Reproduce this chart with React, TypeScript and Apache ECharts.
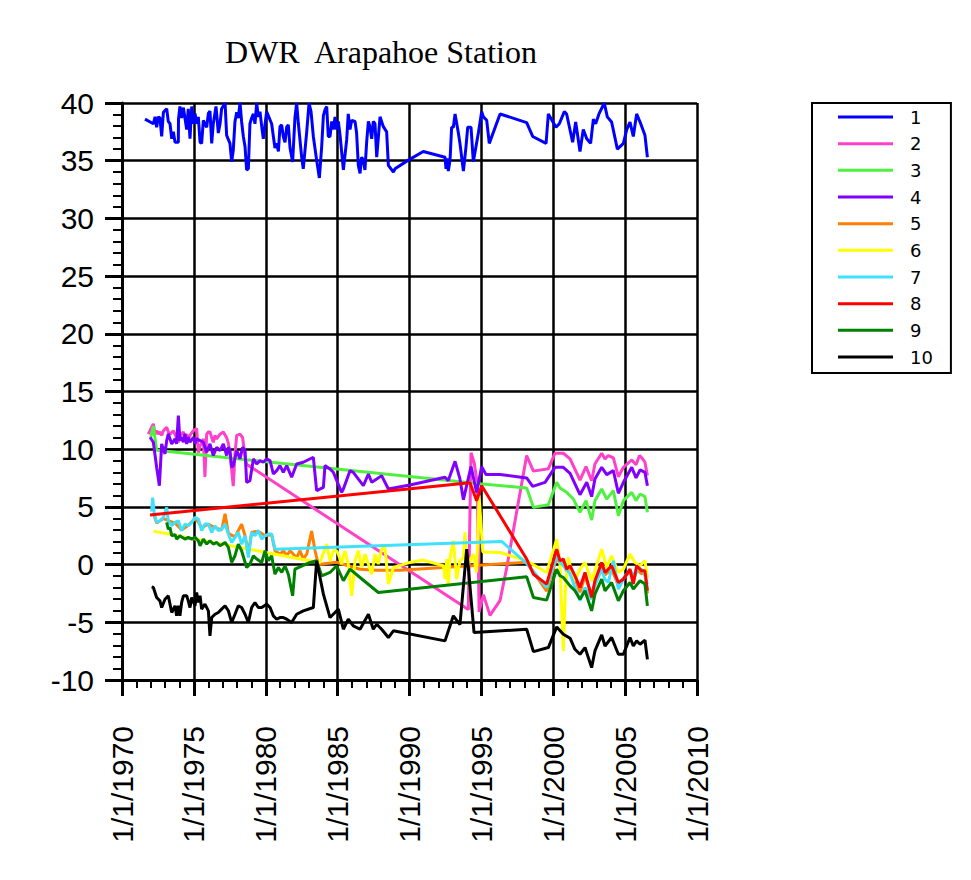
import React, { useEffect, useRef } from "react";
import * as echarts from "echarts";

const seriesNames = ["1", "2", "3", "4", "5", "6", "7", "8", "9", "10"];
const seriesColors = ["#0000ff", "#ff40c8", "#50f040", "#8000ff", "#ff8000", "#ffff00", "#40e0ff", "#ff0000", "#008000", "#000000"];
const xTickYears = [1970, 1975, 1980, 1985, 1990, 1995, 2000, 2005, 2010];

const s1 = [[1971.6,38.6],[1972.18,38.2],[1972.3,38.8],[1972.41,37.9],[1972.53,38.8],[1972.64,38.7],[1972.76,37.1],[1972.88,39.2],[1973.11,39.5],[1973.22,38.4],[1973.34,38.2],[1973.46,36.9],[1973.57,37.5],[1973.69,36.6],[1973.92,36.6],[1973.93,38.6],[1974.03,39.7],[1974.15,38.7],[1974.27,39.6],[1974.5,37.7],[1974.61,39.5],[1974.73,36.9],[1974.85,39.7],[1974.96,38.2],[1975.08,39.1],[1975.19,38.2],[1975.31,38.8],[1975.43,36.6],[1975.54,36.5],[1975.66,38.5],[1975.89,37.9],[1976.01,39.1],[1976.12,39.3],[1976.24,36.5],[1976.35,38.2],[1976.54,39.7],[1976.7,37.4],[1976.82,38.2],[1976.93,39.5],[1977.17,40],[1977.28,37.2],[1977.51,36.5],[1977.63,34.9],[1977.74,35.9],[1977.86,38.4],[1977.98,39.2],[1978.09,38.7],[1978.21,40],[1978.32,38.4],[1978.44,37.1],[1978.56,36.2],[1978.67,34.2],[1978.79,34.3],[1978.9,38.2],[1979.02,38.7],[1979.14,39.05],[1979.25,38.2],[1979.37,40],[1979.48,38.8],[1979.6,39.25],[1979.72,37.95],[1979.83,36.9],[1980.06,39.25],[1980.41,38.2],[1980.53,37.1],[1980.64,36.1],[1980.76,36.5],[1980.88,35.8],[1980.99,37.95],[1981.11,38.1],[1981.22,37.1],[1981.34,36.6],[1981.46,37.95],[1981.57,38.1],[1981.69,36.1],[1981.87,34.9],[1982.03,38.7],[1982.15,40],[1982.27,38.2],[1982.5,35.3],[1982.61,34.3],[1982.85,37.5],[1983.01,40],[1983.15,39.25],[1983.31,37.1],[1983.54,35.05],[1983.73,33.5],[1983.89,36.2],[1984.01,38.9],[1984.12,39.4],[1984.24,39.7],[1984.35,37.1],[1984.47,37.1],[1984.59,38.4],[1984.7,37.7],[1984.82,38.8],[1984.93,37.7],[1985.05,38.4],[1985.17,37.2],[1985.4,34.2],[1985.63,36.8],[1985.74,39.05],[1985.86,37.7],[1985.98,38.5],[1986.21,38.4],[1986.32,37.4],[1986.44,34.6],[1986.56,33.9],[1986.67,35.3],[1986.79,35.05],[1986.9,34.2],[1987.02,36.6],[1987.14,38.4],[1987.25,37.95],[1987.37,36.9],[1987.48,38.4],[1987.6,38.2],[1987.72,35.3],[1987.95,38.8],[1988.18,37.95],[1988.41,37.5],[1988.53,34.6],[1988.88,34.0],[1988.99,34.3],[1989.92,35.05],[1990.96,35.8],[1992.47,35.3],[1992.54,34.3],[1992.63,35.2],[1992.7,34.1],[1992.82,35.05],[1992.93,37.9],[1993.05,37.9],[1993.17,39.05],[1993.4,37.4],[1993.51,36.5],[1993.75,34.1],[1993.93,36.2],[1994.05,37.9],[1994.28,37.9],[1994.44,34.9],[1994.79,37.4],[1995.02,39.25],[1995.14,38.8],[1995.37,38.5],[1995.55,36.5],[1996.3,39.05],[1998.15,38.3],[1998.57,37.1],[1999.5,36.5],[1999.66,39.05],[2000.19,37.9],[2000.42,38.2],[2000.77,39.25],[2000.93,39.05],[2001.35,36.6],[2001.56,38.35],[2001.86,35.8],[2002.09,37.7],[2002.33,36.9],[2002.6,36.5],[2002.79,38.6],[2002.95,38.2],[2003.18,39.05],[2003.55,40],[2003.76,38.8],[2004.06,38.35],[2004.46,36.0],[2004.88,36.5],[2005.11,37.7],[2005.34,38.35],[2005.57,37.1],[2005.8,39.05],[2006.04,38.35],[2006.38,37.2],[2006.55,35.3]];

const s2 = [[1971.83,11.3],[1972.06,11.9],[1972.18,12.2],[1972.3,11.3],[1972.41,11.6],[1972.53,11.3],[1972.64,11.5],[1972.76,11.2],[1972.88,11.6],[1973.11,11.9],[1973.22,11.5],[1973.34,11.3],[1973.57,11.6],[1973.8,11.0],[1973.92,10.6],[1974.03,11.0],[1974.15,11.3],[1974.27,11.5],[1974.38,11.0],[1974.5,11.3],[1974.61,10.9],[1974.73,11.2],[1974.96,11.6],[1975.19,11.8],[1975.31,9.7],[1975.43,10.3],[1975.54,10.5],[1975.66,10.9],[1975.77,7.6],[1975.89,11.3],[1976.01,11.5],[1976.12,11.5],[1976.24,11.0],[1976.35,10.6],[1976.47,11.2],[1976.58,10.9],[1976.82,11.3],[1977.05,11.5],[1977.28,11.0],[1977.4,10.5],[1977.51,9.7],[1977.74,6.8],[1977.86,9.6],[1977.98,11.2],[1978.21,11.3],[1978.39,11.0],[1978.56,9.3],[1978.67,8.7],[1994.09,-3.9],[1994.28,9.7],[1994.5,8.8],[1994.72,7.0],[1994.84,-4.1],[1995.14,-2.6],[1995.6,-4.4],[1996.3,-3.1],[1996.76,-0.3],[1998.15,9.45],[1998.62,8.1],[1999.66,8.3],[2000.12,9.65],[2000.7,9.65],[2001.17,9.16],[2001.86,7.33],[2002.28,8.49],[2002.67,7.27],[2002.9,8.72],[2003.37,9.65],[2003.6,9.16],[2003.83,9.45],[2004.18,9.24],[2004.53,7.62],[2004.88,8.43],[2005.46,9.07],[2005.76,8.66],[2006.0,9.45],[2006.22,9.16],[2006.38,8.87],[2006.55,7.71]];

const s3 = [[1972.0,11.0],[1972.18,12.0],[1972.41,9.9],[1994.9,7.0],[1998.15,6.64],[1998.62,4.96],[1999.66,5.19],[2000.24,7.13],[2000.47,6.64],[2000.93,6.26],[2001.4,5.68],[2001.86,4.53],[2002.28,5.54],[2002.67,3.86],[2002.9,5.54],[2003.37,6.55],[2003.72,5.68],[2004.18,6.41],[2004.53,4.24],[2004.88,5.54],[2005.46,6.26],[2005.76,5.54],[2006.04,6.12],[2006.38,5.89],[2006.55,4.53]];

const s4 = [[1971.95,11.04],[1972.18,10.6],[1972.41,8.43],[1972.6,6.84],[1972.76,10.46],[1972.99,9.59],[1973.11,10.75],[1973.22,11.33],[1973.46,10.46],[1973.69,10.89],[1973.8,10.46],[1973.92,12.92],[1974.03,10.75],[1974.15,11.04],[1974.27,10.6],[1974.38,11.33],[1974.5,10.46],[1974.61,11.04],[1974.73,10.6],[1974.96,11.04],[1975.08,10.46],[1975.19,10.89],[1975.43,10.75],[1975.66,10.6],[1975.89,9.74],[1976.12,10.46],[1976.35,9.45],[1976.59,10.17],[1976.82,9.88],[1977.05,10.46],[1977.28,9.45],[1977.4,10.17],[1977.51,9.88],[1977.63,8.43],[1977.74,8.58],[1977.98,9.88],[1978.21,9.16],[1978.39,10.17],[1978.56,9.88],[1978.67,7.13],[1978.9,7.28],[1979.14,9.16],[1979.37,8.72],[1979.6,9.01],[1979.83,8.87],[1980.06,9.16],[1980.3,9.01],[1980.53,7.85],[1980.76,8.14],[1980.99,8.58],[1981.22,8.0],[1981.46,8.58],[1981.8,7.57],[1982.15,8.72],[1982.61,8.87],[1983.31,9.3],[1983.54,6.41],[1984.01,6.7],[1984.12,8.58],[1984.47,8.29],[1984.7,8.0],[1985.28,6.26],[1985.4,6.55],[1985.86,8.14],[1986.09,8.0],[1986.79,6.84],[1987.14,7.85],[1987.37,7.13],[1987.72,7.42],[1988.06,7.71],[1988.53,6.55],[1990.03,6.9],[1992.47,7.57],[1992.7,7.28],[1993.17,8.95],[1993.51,7.42],[1993.75,5.63],[1994.28,8.49],[1994.49,7.28],[1994.67,6.26],[1995.02,8.49],[1995.32,7.8],[1995.6,7.8],[1996.3,7.8],[1998.15,7.51],[1998.57,6.78],[1999.43,7.13],[2000.12,8.43],[2000.7,8.43],[2001.17,7.91],[2001.86,6.06],[2002.33,7.13],[2002.67,5.89],[2002.9,7.42],[2003.37,8.43],[2003.72,7.8],[2004.18,8.14],[2004.53,6.18],[2004.88,7.13],[2005.46,8.43],[2005.76,7.51],[2006.04,8.2],[2006.38,8.0],[2006.55,6.84]];

const s5 = [[1972.18,4.5],[1972.41,3.6],[1972.88,4.0],[1973.22,3.8],[1973.69,3.6],[1974.15,3.0],[1974.61,3.4],[1975.08,4.0],[1975.31,3.7],[1975.54,3.2],[1976.01,3.5],[1976.47,3.2],[1976.93,3.0],[1977.17,4.4],[1977.4,2.7],[1977.86,2.4],[1978.32,3.5],[1978.56,2.5],[1978.79,1.0],[1979.02,2.8],[1979.48,2.9],[1979.95,2.5],[1980.41,2.6],[1980.64,1.2],[1981.0,0.9],[1981.22,1.2],[1981.46,0.8],[1981.69,1.2],[1981.92,0.9],[1982.15,0.6],[1982.38,1.2],[1982.61,0.5],[1982.85,0.9],[1983.19,2.9],[1983.43,1.2],[1983.66,0.0],[1984.93,0.2],[1986.56,-0.4],[1987.72,-0.5],[1989.34,-0.5],[1998.15,0.2],[1999.54,-2.3],[2000.24,0.6],[2000.47,0.1],[2000.7,0.3],[2000.93,-0.6],[2001.17,-0.3],[2001.51,-1.2],[2001.86,-2.4],[2002.21,-1.0],[2002.67,-2.6],[2002.9,-1.6],[2003.37,0.0],[2003.6,-0.9],[2004.06,-0.4],[2004.53,-1.8],[2004.88,-1.2],[2005.34,-0.6],[2005.57,-1.5],[2005.8,-0.4],[2006.15,-0.8],[2006.38,-0.7],[2006.55,-2.5]];

const s6 = [[1972.18,2.9],[1983.08,0.33],[1983.77,0.19],[1984.24,1.78],[1984.47,0.33],[1984.7,1.2],[1984.93,1.2],[1985.05,0.9],[1985.28,0.04],[1985.51,1.2],[1985.74,0.04],[1985.98,-2.7],[1986.21,0.33],[1986.44,1.2],[1986.67,-0.25],[1986.9,0.91],[1987.14,0.04],[1987.37,-0.83],[1987.6,0.91],[1987.83,0.04],[1988.06,1.34],[1988.29,1.49],[1988.53,-1.69],[1988.88,-0.25],[1990.03,0.19],[1990.96,0.39],[1992.35,-0.1],[1992.47,-1.26],[1992.59,0.48],[1992.7,-1.84],[1992.82,0.62],[1993.05,2.07],[1993.28,-1.26],[1993.51,0.33],[1993.75,0.6],[1993.86,2.79],[1993.98,-0.25],[1994.21,0.33],[1994.44,0.9],[1994.67,-0.68],[1994.84,6.0],[1995.1,1.1],[1996.3,1.05],[1998.15,0.33],[1999.54,-0.68],[2000.24,2.21],[2000.47,0.04],[2000.7,-7.48],[2000.85,-2.0],[2001.05,0.62],[2001.28,-0.68],[2001.51,-1.4],[2001.86,-0.39],[2002.21,0.19],[2002.67,-1.4],[2003.37,1.34],[2003.72,-0.25],[2004.06,0.77],[2004.53,-0.68],[2004.88,-0.39],[2005.34,0.91],[2005.69,0.19],[2006.04,-0.1],[2006.38,0.33],[2006.55,-1.12]];

const s7 = [[1972.06,4.6],[1972.13,5.8],[1972.25,4.4],[1972.41,3.66],[1972.64,3.8],[1972.88,4.09],[1973.11,4.96],[1973.22,3.8],[1973.46,3.37],[1973.69,3.66],[1973.92,3.8],[1974.15,2.94],[1974.38,3.51],[1974.61,3.37],[1974.85,3.66],[1975.08,4.09],[1975.31,3.95],[1975.54,2.94],[1975.77,3.51],[1976.01,3.51],[1976.24,2.79],[1976.47,3.37],[1976.7,2.94],[1976.93,3.08],[1977.17,3.51],[1977.4,2.65],[1977.63,1.92],[1977.86,2.36],[1978.09,2.79],[1978.32,1.78],[1978.56,2.5],[1978.79,0.62],[1979.02,2.79],[1979.25,2.5],[1979.48,2.94],[1979.72,2.21],[1979.95,2.5],[1980.18,2.65],[1980.41,2.65],[1980.64,1.34],[1996.41,2.01],[1998.15,0.1],[1999.54,-1.98],[2000.24,0.77],[2000.47,0.2],[2000.7,-0.1],[2001.17,-0.8],[2001.51,-1.98],[2001.86,-3.14],[2002.21,-1.98],[2002.67,-3.0],[2002.9,-1.8],[2003.37,-0.39],[2003.6,-1.3],[2003.83,-1.55],[2004.18,0.33],[2004.53,-2.13],[2004.99,-0.97],[2005.34,-0.54],[2005.69,-0.97],[2005.92,-0.25],[2006.27,-0.54],[2006.55,-1.69]];

const s8 = [[1971.95,4.3],[1994.21,7.1],[1994.67,5.54],[1995.02,6.84],[1998.15,0.48],[1998.62,-0.83],[1999.54,-1.69],[2000.24,1.34],[2000.47,0.33],[2000.7,0.48],[2000.93,-0.39],[2001.17,-0.1],[2001.51,-0.97],[2001.86,-1.98],[2002.21,-0.68],[2002.67,-2.85],[2002.9,-1.4],[2003.37,0.19],[2003.6,-0.68],[2004.06,-0.1],[2004.53,-1.55],[2004.88,-1.26],[2005.34,-0.39],[2005.57,-1.69],[2005.8,-0.1],[2006.15,-0.54],[2006.38,-0.54],[2006.55,-2.27]];

const s9 = [[1973.11,3.66],[1973.22,3.08],[1973.34,3.2],[1973.46,2.5],[1973.69,2.6],[1973.8,2.21],[1974.03,2.5],[1974.15,2.4],[1974.38,2.21],[1974.61,2.36],[1974.85,2.21],[1975.08,2.36],[1975.31,2.07],[1975.43,1.63],[1975.66,2.21],[1975.89,1.78],[1976.12,2.07],[1976.35,1.78],[1976.59,1.92],[1976.82,1.63],[1977.17,1.92],[1977.4,1.49],[1977.63,0.19],[1977.86,0.77],[1978.09,1.78],[1978.32,1.2],[1978.67,-0.25],[1978.9,0.04],[1979.14,0.77],[1979.37,0.48],[1979.72,0.19],[1979.95,1.2],[1980.18,0.33],[1980.41,0.77],[1980.64,-0.83],[1980.88,-0.25],[1981.11,-0.68],[1981.34,-0.1],[1981.57,-0.83],[1981.87,-2.7],[1982.03,-0.39],[1983.08,0.19],[1983.54,0.33],[1983.89,-0.97],[1984.47,-0.68],[1984.93,-0.1],[1985.4,-1.4],[1985.86,-0.39],[1986.56,-1.12],[1987.83,-2.42],[1998.15,-1.06],[1998.62,-2.85],[1999.54,-3.08],[2000.24,-0.39],[2000.47,-0.97],[2000.7,-1.12],[2001.17,-1.84],[2001.51,-2.27],[2001.86,-3.0],[2002.21,-2.27],[2002.67,-4.01],[2002.9,-2.56],[2003.37,-1.26],[2003.6,-2.27],[2004.06,-1.55],[2004.53,-3.14],[2004.88,-2.27],[2005.34,-1.55],[2005.57,-2.13],[2006.04,-1.4],[2006.38,-1.69],[2006.55,-3.57]];

const s10 = [[1972.06,-1.93],[1972.18,-1.98],[1972.41,-2.85],[1972.64,-3.14],[1972.76,-3.72],[1972.99,-3.0],[1973.22,-2.7],[1973.46,-4.15],[1973.69,-3.57],[1973.8,-4.44],[1973.92,-3.57],[1974.03,-4.44],[1974.15,-3.28],[1974.27,-2.7],[1974.5,-2.7],[1974.61,-3.14],[1974.73,-3.72],[1974.85,-2.85],[1975.08,-3.57],[1975.19,-2.42],[1975.31,-3.28],[1975.43,-2.7],[1975.54,-3.86],[1975.77,-3.43],[1976.01,-4.01],[1976.12,-6.18],[1976.24,-4.59],[1976.47,-4.3],[1976.7,-4.15],[1976.93,-3.86],[1977.17,-3.57],[1977.4,-4.0],[1977.63,-5.02],[1977.86,-4.3],[1978.09,-3.57],[1978.32,-3.72],[1978.56,-4.3],[1978.79,-5.02],[1979.02,-3.72],[1979.25,-3.28],[1979.48,-3.72],[1979.72,-3.72],[1980.06,-3.43],[1980.3,-3.72],[1980.53,-4.44],[1980.76,-4.73],[1980.99,-4.59],[1981.22,-4.59],[1981.46,-4.73],[1981.8,-5.02],[1982.15,-4.3],[1982.61,-4.01],[1983.31,-3.72],[1983.54,0.33],[1984.01,-2.56],[1984.47,-4.59],[1984.82,-4.15],[1985.05,-3.86],[1985.4,-5.6],[1985.74,-4.73],[1986.09,-5.31],[1986.56,-5.6],[1987.14,-4.3],[1987.48,-5.6],[1987.72,-5.17],[1988.06,-5.6],[1988.53,-6.32],[1988.88,-5.74],[1992.47,-6.61],[1993.05,-4.44],[1993.51,-5.2],[1993.98,1.34],[1994.49,-5.89],[1998.15,-5.6],[1998.62,-7.54],[1999.66,-7.19],[2000.24,-5.4],[2000.7,-6.03],[2001.17,-6.38],[2001.51,-7.34],[2001.86,-7.77],[2002.21,-7.19],[2002.67,-8.93],[2002.9,-7.48],[2003.37,-6.09],[2003.6,-7.05],[2004.06,-6.32],[2004.53,-7.77],[2004.88,-7.77],[2005.34,-6.32],[2005.57,-7.05],[2005.8,-6.61],[2006.04,-6.9],[2006.38,-6.55],[2006.55,-8.21]];

const allSeries = [s1, s2, s3, s4, s5, s6, s7, s8, s9, s10];

export default function App() {
  const ref = useRef<HTMLDivElement>(null);
  useEffect(() => {
    if (!ref.current) return;
    const chart = echarts.init(ref.current, null, { renderer: "svg" });
    const sans = "'Liberation Sans', Arial, sans-serif";
    chart.setOption({
      animation: false,
      backgroundColor: "#ffffff",
      title: {
        text: "DWR  Arapahoe Station",
        left: 376,
        top: 31,
        textAlign: "center",
        textStyle: { fontFamily: "'Liberation Serif', 'Times New Roman', serif", fontSize: 32, fontWeight: "normal", color: "#000" },
      },
      legend: {
        orient: "vertical",
        left: 812,
        top: 103,
        padding: [2, 18, 4, 26],
        borderColor: "#000",
        borderWidth: 2,
        icon: "rect",
        itemWidth: 55,
        itemHeight: 3,
        itemGap: 2.67,
        data: seriesNames,
        textStyle: { fontFamily: "'DejaVu Sans', sans-serif", fontSize: 18, color: "#000", lineHeight: 18, padding: [0, 0, 6, 12] },
      },
      grid: { left: 122, top: 103, width: 575, height: 577 },
      xAxis: {
        type: "value",
        min: 1970,
        max: 2010,
        interval: 5,
        axisLine: { show: true, onZero: false, lineStyle: { color: "#000", width: 3 } },
        axisTick: { show: true, length: 16, lineStyle: { color: "#000", width: 3 } },
        minorTick: { show: true, splitNumber: 5, length: 8, lineStyle: { color: "#000", width: 2 } },
        splitLine: { show: true, lineStyle: { color: "#000", width: 2.5 } },
        axisLabel: {
          rotate: 90,
          margin: 46,
          fontSize: 30,
          fontFamily: sans,
          color: "#000",
          formatter: (v: number) => (xTickYears.includes(v) ? `1/1/${v}` : ""),
        },
      },
      yAxis: {
        type: "value",
        min: -10,
        max: 40,
        interval: 5,
        axisLine: { show: true, onZero: false, lineStyle: { color: "#000", width: 3 } },
        axisTick: { show: true, length: 17, lineStyle: { color: "#000", width: 3 } },
        minorTick: { show: true, splitNumber: 5, length: 9, lineStyle: { color: "#000", width: 2 } },
        splitLine: { show: true, lineStyle: { color: "#000", width: 2.5 } },
        axisLabel: { margin: 28, fontSize: 30, fontFamily: sans, color: "#000" },
      },
      series: allSeries.map((d, i) => ({
        name: seriesNames[i],
        type: "line",
        data: d,
        symbol: "none",
        showSymbol: false,
        color: seriesColors[i],
        lineStyle: { color: seriesColors[i], width: 3 },
        z: 2 + i,
      })),
    });
    return () => chart.dispose();
  }, []);
  return <div ref={ref} style={{ position: "fixed", left: 0, top: 0, width: 971, height: 880 }} />;
}
